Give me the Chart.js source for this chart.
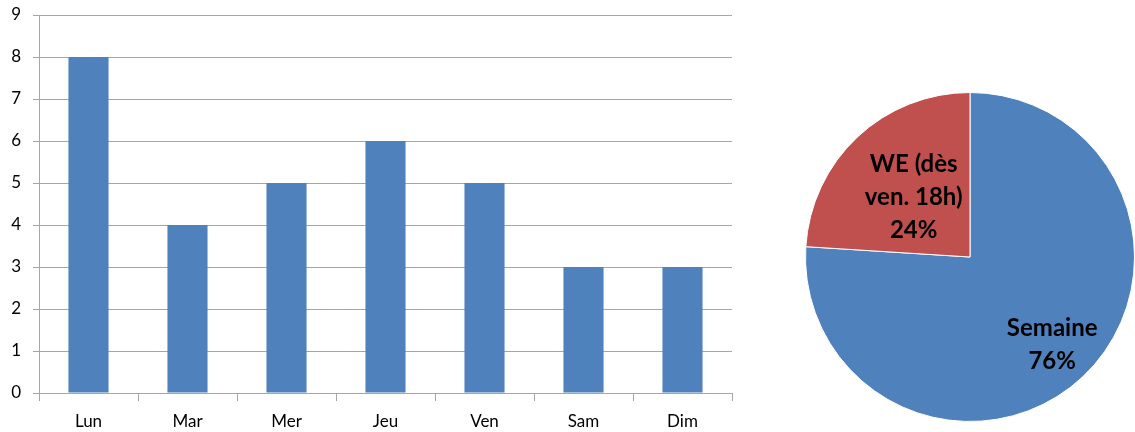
<!DOCTYPE html>
<html>
<head>
<meta charset="utf-8">
<script src="https://cdn.jsdelivr.net/npm/chart.js@4"></script>
<style>
  body { margin: 0; background: #fff; }
  #barBox { position: absolute; left: 0; top: 0; width: 740px; height: 432px; }
  #pieBox { position: absolute; left: 790px; top: 0; width: 345px; height: 432px; }
</style>
</head>
<body>
<div id="barBox"><canvas id="barChart"></canvas></div>
<div id="pieBox"><canvas id="pieChart"></canvas></div>
<script>
// bar data
let days = ["Lun", "Mar", "Mer", "Jeu", "Ven", "Sam", "Dim"];
let dayValues = [8, 4, 5, 6, 5, 3, 3];
let yTicks = [0, 1, 2, 3, 4, 5, 6, 7, 8, 9];

// pie data
let pieLabels = [["Semaine"], ["WE (dès", "ven. 18h)"]];
let pieValues = [76, 24];

let blue = "#4f81bd";
let red = "#c0504d";
let gridColor = "#a6a6a6";

Chart.defaults.font.family = "Lato, 'Open Sans', sans-serif";
Chart.defaults.color = "#000";

// draw slice labels inside the pie
const sliceLabels = {
    id: "sliceLabels",
    afterDatasetsDraw(chart) {
        const ctx = chart.ctx;
        const meta = chart.getDatasetMeta(0);
        const data = chart.data.datasets[0].data;
        const total = data.reduce((a, b) => a + b, 0);
        const radFrac = [0.73, 0.5];
        ctx.save();
        ctx.font = "bold 24px Lato, sans-serif";
        ctx.fillStyle = "#000";
        ctx.textAlign = "center";
        ctx.textBaseline = "middle";
        meta.data.forEach((arc, i) => {
            const p = arc.getProps(["x", "y", "startAngle", "endAngle", "outerRadius"], true);
            const mid = (p.startAngle + p.endAngle) / 2;
            const r = p.outerRadius * radFrac[i];
            const cx = p.x + Math.cos(mid) * r;
            const cy = p.y + Math.sin(mid) * r;
            const lines = pieLabels[i].concat([Math.round(data[i] / total * 100) + "%"]);
            const lh = 33;
            lines.forEach((t, j) => {
                ctx.fillText(t, cx, cy + (j - (lines.length - 1) / 2) * lh);
            });
        });
        ctx.restore();
    }
};

function initCharts() {
    const ctx1 = document.getElementById("barChart").getContext("2d");
    const ctx2 = document.getElementById("pieChart").getContext("2d");

    new Chart(ctx1, {
        type: "bar",
        data: {
            labels: days,
            datasets: [{
                data: dayValues,
                backgroundColor: blue,
                categoryPercentage: 1,
                barPercentage: 0.405
            }]
        },
        options: {
            responsive: true,
            maintainAspectRatio: false,
            animation: false,
            layout: { padding: { top: 15, right: 8, left: 0, bottom: 0 } },
            plugins: { legend: { display: false }, tooltip: { enabled: false } },
            scales: {
                x: {
                    grid: {
                        offset: true,
                        drawOnChartArea: false,
                        drawTicks: true,
                        tickLength: 8,
                        color: gridColor
                    },
                    border: { color: gridColor },
                    ticks: { font: { size: 17 }, padding: 10 },
                    afterFit: s => { s.height = 39; }
                },
                y: {
                    min: 0,
                    max: 9,
                    afterBuildTicks: s => { s.ticks = yTicks.map(v => ({ value: v })); },
                    grid: { color: gridColor, tickLength: 6 },
                    border: { color: gridColor },
                    ticks: { font: { size: 17 }, padding: 12 },
                    afterFit: s => {
                        s.width = 39;
                        s.paddingTop = 0;
                        s.paddingBottom = 0;
                    }
                }
            }
        }
    });

    new Chart(ctx2, {
        type: "pie",
        data: {
            labels: pieLabels.map(l => l.join(" ")),
            datasets: [{
                data: pieValues,
                backgroundColor: [blue, red],
                borderColor: "#ffffff",
                borderWidth: 1
            }]
        },
        options: {
            responsive: true,
            maintainAspectRatio: false,
            animation: false,
            layout: { padding: { top: 92, left: 15, right: 0, bottom: 10 } },
            plugins: { legend: { display: false }, tooltip: { enabled: false } }
        },
        plugins: [sliceLabels]
    });
}

window.onload = initCharts;
</script>
</body>
</html>
